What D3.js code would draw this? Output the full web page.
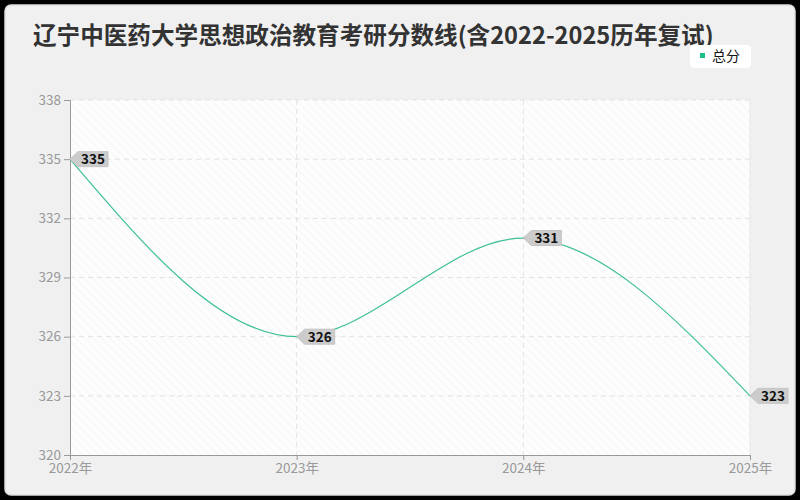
<!DOCTYPE html>
<html><head><meta charset="utf-8">
<script src="https://cdn.jsdelivr.net/npm/d3@7/dist/d3.min.js"></script>
<style>body{margin:0;background:#000;}svg{display:block;font-family:"Noto Sans CJK SC","Noto Sans",sans-serif;}</style>
</head><body><svg id="c" width="800" height="500"></svg>
<script>
const years = ["2022年","2023年","2024年","2025年"];
const totalScores = [335, 326, 331, 323];
const yTicks = [320, 323, 326, 329, 332, 335, 338];
const seriesName = "总分";
const title = "辽宁中医药大学思想政治教育考研分数线(含2022-2025历年复试)";

const svg = d3.select("#c");
svg.append("rect").attr("width",800).attr("height",500).attr("fill","#000");
svg.append("rect").attr("x",5).attr("y",5).attr("width",790).attr("height",490).attr("rx",6)
  .attr("fill","#f0f0f0").attr("stroke","#dcdcdc").attr("stroke-width",1.5);

const m = {l:70, r:750, t:100, b:455};
const x = d3.scalePoint().domain(years).range([m.l, m.r]);
const y = d3.scaleLinear().domain([320, 338]).range([m.b, m.t]);

const defs = svg.append("defs");
const pat = defs.append("pattern").attr("id","hatch").attr("patternUnits","userSpaceOnUse")
  .attr("width",6).attr("height",6).attr("patternTransform","rotate(-45)");
pat.append("rect").attr("width",6).attr("height",6).attr("fill","#fdfdfd");
pat.append("line").attr("x1",0).attr("y1",0).attr("x2",0).attr("y2",6).attr("stroke","#f0f0f0").attr("stroke-width",1);

svg.append("rect").attr("x",m.l).attr("y",m.t).attr("width",m.r-m.l).attr("height",m.b-m.t).attr("fill","url(#hatch)");
svg.append("line").attr("x1",m.r).attr("x2",m.r).attr("y1",m.t).attr("y2",m.b).attr("stroke","#e6e6e6");

// grid
svg.append("g").selectAll("line").data(yTicks.slice(1)).join("line")
  .attr("x1",m.l).attr("x2",m.r).attr("y1",d=>y(d)).attr("y2",d=>y(d))
  .attr("stroke","#e3e3e3").attr("stroke-dasharray","5,4");
svg.append("g").selectAll("line").data(years.slice(1,3)).join("line")
  .attr("x1",d=>x(d)).attr("x2",d=>x(d)).attr("y1",m.t).attr("y2",m.b)
  .attr("stroke","#e3e3e3").attr("stroke-dasharray","5,4");

// axes
const ya = svg.append("g").attr("transform",`translate(${m.l},0)`)
  .call(d3.axisLeft(y).tickValues(yTicks).tickSize(6).tickPadding(3).tickFormat(d3.format("d")));
const xa = svg.append("g").attr("transform",`translate(0,${m.b})`)
  .call(d3.axisBottom(x).tickSize(5).tickPadding(3));
[ya,xa].forEach(a=>{
  a.select(".domain").attr("stroke","#999");
  a.selectAll(".tick line").attr("stroke","#999");
  a.selectAll("text").attr("fill","#999").attr("font-size",13.5).attr("font-family","'Noto Sans CJK SC',sans-serif");
});

// line
const pts = years.map((yr,i)=>({yr, v: totalScores[i]}));
svg.append("path").datum(pts)
  .attr("d", d3.line().x(d=>x(d.yr)).y(d=>y(d.v)).curve(d3.curveMonotoneX))
  .attr("fill","none").attr("stroke","#3dbf9a").attr("stroke-width",1.2);

// labels
const lab = svg.append("g").selectAll("g").data(pts).join("g")
  .attr("transform",d=>`translate(${x(d.yr)},${y(d.v)})`);
lab.append("path").attr("d","M0,0 L8,-7.5 L38,-7.5 L38,7.5 L8,7.5 Z")
  .attr("fill","#cccccc").attr("stroke","#c4c4c4");
lab.append("text").attr("x",23).attr("y",5).attr("text-anchor","middle")
  .attr("font-size",13.5).attr("font-weight","bold").attr("fill","#111")
  .attr("font-family","'Noto Sans CJK SC',sans-serif").text(d=>d.v);

// title
svg.append("text").attr("x",33).attr("y",44).attr("font-size",23.6).attr("font-weight","bold")
  .attr("fill","#333").text(title);

// legend
svg.append("rect").attr("x",690).attr("y",45).attr("width",61).attr("height",23).attr("rx",4)
  .attr("fill","#fff");
svg.append("rect").attr("x",700).attr("y",53).attr("width",5).attr("height",5).attr("fill","#1dbf8a");
svg.append("text").attr("x",712).attr("y",61).attr("font-size",14).attr("fill","#111").text(seriesName);
</script></body></html>
